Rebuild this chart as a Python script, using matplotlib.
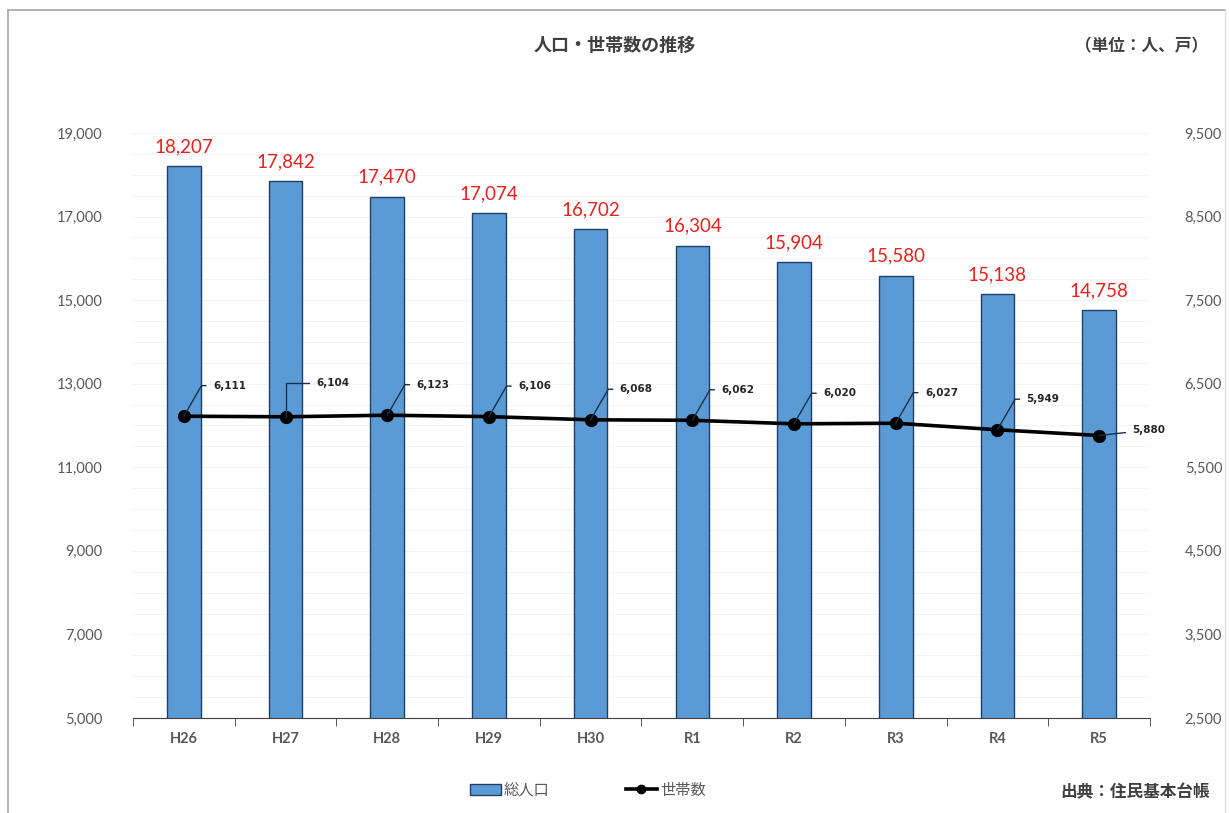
import numpy as np
import matplotlib
matplotlib.use('Agg')
import matplotlib.pyplot as plt
from matplotlib.lines import Line2D
from matplotlib.patches import Patch

# データ
years = ['H26', 'H27', 'H28', 'H29', 'H30', 'R1', 'R2', 'R3', 'R4', 'R5']
population = [18207, 17842, 17470, 17074, 16702, 16304, 15904, 15580, 15138, 14758]
households = [6111, 6104, 6123, 6106, 6068, 6062, 6020, 6027, 5949, 5880]

plt.rcParams['font.family'] = ['Lato', 'Noto Sans CJK JP', 'DejaVu Sans']
jp = ['Noto Sans CJK JP', 'DejaVu Sans']

fig = plt.figure(figsize=(12.29, 8.13), dpi=100)
ax = fig.add_axes([0.1082, 0.1169, 0.8275, 0.7195])
ax2 = ax.twinx()

x = np.arange(len(years))

# 総人口（棒）
ax.bar(x, population, width=0.33, color='#5b9bd5', edgecolor='#1f3f66',
       linewidth=1.0, zorder=2)
for i, v in enumerate(population):
    ax.annotate(f'{v:,}', (x[i], v), xytext=(0, 8), textcoords='offset points',
                ha='center', va='bottom', color='#e8211d', fontsize=13.5)

ax.set_xlim(-0.5, len(years) - 0.5)
ax.set_ylim(5000, 19000)
ax.set_yticks(np.arange(5000, 19001, 2000))
ax.set_yticklabels([f'{v:,}' for v in range(5000, 19001, 2000)])
ax.set_yticks(np.arange(5000, 19001, 500), minor=True)
ax.grid(axis='y', which='both', color='#f4f4f4', linewidth=0.8, zorder=0)
ax.set_xticks(x)
ax.set_xticklabels(years, fontweight='bold')
ax.set_xticks(np.arange(-0.5, len(years), 1.0), minor=True)
ax.tick_params(axis='x', which='major', length=0, pad=10, labelsize=10.5, colors='#595959')
ax.tick_params(axis='x', which='minor', length=6, direction='out', color='#404040')
ax.tick_params(axis='y', which='both', length=0, pad=22, labelsize=10.5, labelcolor='#595959')
for s in ['top', 'left', 'right']:
    ax.spines[s].set_visible(False)
ax.spines['bottom'].set_color('#404040')

# 世帯数（折れ線）
ax2.plot(x, households, color='black', linewidth=2.6, marker='o', markersize=8.5, zorder=3)
ax2.set_ylim(2500, 9500)
ax2.set_yticks(np.arange(2500, 9501, 1000))
ax2.set_yticklabels([f'{v:,}' for v in range(2500, 9501, 1000)])
ax2.tick_params(axis='y', length=0, pad=25, labelsize=10.5, labelcolor='#595959')
for s in ['top', 'left', 'right', 'bottom']:
    ax2.spines[s].set_visible(False)

for i, v in enumerate(households):
    if i == len(households) - 1:
        off = (24, 4)
        conn = 'arc3'
    elif i == 1:
        off = (22, 24)
        conn = 'angle,angleA=180,angleB=90,rad=0'
    else:
        off = (21, 22)
        conn = 'angle,angleA=180,angleB=60,rad=0'
    ax2.annotate(f'{v:,}', (x[i], v), xytext=off, textcoords='offset points',
                 ha='left', va='center', fontsize=7.5, fontweight='bold', color='#262626',
                 family=['DejaVu Sans'],
                 arrowprops=dict(arrowstyle='-', color='#1a2f4d', lw=1.0,
                                 connectionstyle=conn, shrinkA=3, shrinkB=0))

# タイトル等
fig.text(0.5, 1 - 45 / 813, '人口・世帯数の推移', ha='center', va='center',
         fontsize=13, color='#404040', family=jp, fontweight='bold')
fig.text(1142 / 1229, 1 - 46 / 813, '（単位：人、戸）', ha='center', va='center',
         fontsize=12, color='#404040', family=jp, fontweight='bold')
fig.text(1135 / 1229, 1 - 792 / 813, '出典：住民基本台帳', ha='center', va='center',
         fontsize=12, color='#404040', family=jp, fontweight='bold')

handles = [Patch(facecolor='#5b9bd5', edgecolor='#1f3f66', label='総人口'),
           Line2D([0], [0], color='black', lw=2.6, marker='o', markersize=6, label='世帯数')]
leg = fig.legend(handles=handles, loc='center', bbox_to_anchor=(588 / 1229, 1 - 790 / 813),
                 ncol=2, frameon=False, handlelength=2.0, handletextpad=0.2,
                 columnspacing=5.0, prop={'family': jp, 'size': 11})
for t in leg.get_texts():
    t.set_color('#595959')

# 外枠
fig.add_artist(Line2D([8 / 1229, 8 / 1229], [0, 1 - 10 / 813], transform=fig.transFigure,
                      color='#a6a6a6', lw=1.2))
fig.add_artist(Line2D([8 / 1229, 1225 / 1229], [1 - 10 / 813, 1 - 10 / 813],
                      transform=fig.transFigure, color='#a6a6a6', lw=1.2))
fig.add_artist(Line2D([1225 / 1229, 1225 / 1229], [0, 1 - 10 / 813], transform=fig.transFigure,
                      color='#e0e0e0', lw=1.0))

plt.savefig('out.png', dpi=100)
